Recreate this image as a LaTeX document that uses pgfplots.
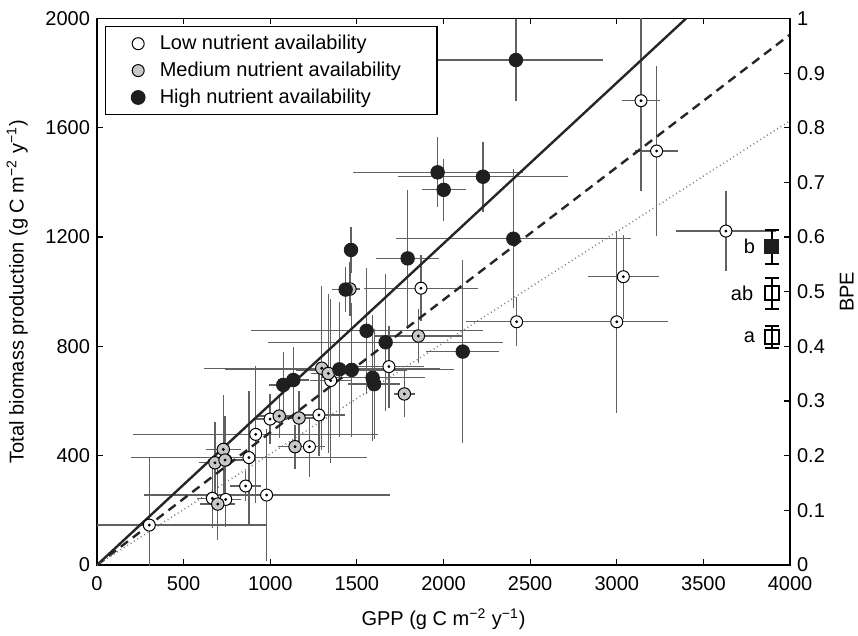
\documentclass[border=0pt]{standalone}
\usepackage{fontspec}
\setmainfont{Liberation Sans}
\usepackage{pgfplots}
\usepackage{pgfplotstable}
\pgfplotsset{compat=1.18}
\usetikzlibrary{calc}

\pgfplotstableread{
x y ex ey
2418 1848 500 150
1966 1437 490 128
2001 1373 128 114
2228 1421 490 128
2403 1194 680 255
1466 1153 40 84
1793 1122 183 250
1435 1008 80 82
1556 857 670 230
1666 815 680 250
2111 781 210 335
1399 716 660 247
1470 714 320 245
1591 685 300 230
1600 662 150 200
1075 659 80 120
1133 677 90 120
}\highdata

\pgfplotstableread{
x y ex ey
1460 1010 60 100
1297 720 680 300
1335 701 100 290
1855 838 250 100
1774 626 60 85
1052 545 120 80
1166 538 150 100
1143 433 100 80
729 423 100 200
681 374 90 150
739 384 100 160
697 223 100 130
}\meddata

\pgfplotstableread{
x y ex ey
3140 1699 110 330
3230 1515 125 310
3630 1222 290 145
3038 1055 205 153
3000 890 294 333
2422 890 290 90
1870 1013 327 120
1685 726 200 150
1349 675 120 300
1281 549 150 150
999 534 100 90
1226 433 90 110
916 478 706 250
877 393 680 245
743 384 100 160
858 289 90 55
979 256 710 240
666 244 90 110
743 240 90 100
302 146 680 245
}\lowdata

\begin{document}
\fontsize{10}{12}\selectfont
\begin{tikzpicture}
\pgfplotsset{
  base/.style={
    scale only axis, width=346.5pt, height=273.25pt,
    xmin=0, xmax=4000,
    tick align=inside, major tick length=3pt,
    axis line style={line width=0.9pt},
    tick style={black, line width=0.6pt},
    /pgf/number format/assume math mode=true,
    /pgf/number format/1000 sep={},
    tick label style={font=\fontsize{10}{12}\selectfont},
    label style={font=\fontsize{10}{12}\selectfont},
  },
  ebars/.style={only marks, mark=none, forget plot,
    error bars/.cd, x dir=both, x explicit, y dir=both, y explicit,
    error mark=none, error bar style={black!62, line width=0.65pt}},
}
\begin{axis}[base,
  ymin=0, ymax=2000,
  xtick={0,500,...,4000}, ytick={0,400,...,2000},
  xtick pos=both, ytick pos=left,
  xticklabel style={yshift=-2.2pt},
  xlabel={GPP (g C m\textsuperscript{−2} y\textsuperscript{−1})},
  ylabel={Total biomass production (g C m\textsuperscript{−2} y\textsuperscript{−1})},
  xlabel style={at={(axis description cs:0.5,-0.099)}, anchor=center},
  ylabel style={at={(axis description cs:-0.115,0.5)}, anchor=center},
  legend style={at={(0.0115,0.986)}, anchor=north west, draw=black, line width=0.6pt,
    font=\fontsize{10}{12}\selectfont, inner xsep=2pt, inner ysep=2.5pt,
    nodes={inner ysep=1.6pt, inner xsep=3pt}, row sep=1.5pt},
  legend cell align=left,
  legend image code/.code={\path (0pt,0pt) (21.5pt,0pt); \draw[#1] plot coordinates {(14pt,0pt)};},
]
\coordinate (SW) at (rel axis cs:0,0);
\coordinate (NE) at (rel axis cs:1,1);
\addlegendimage{only marks, mark=*, mark size=3pt, mark options={fill=white, draw=black, line width=0.5pt}}
\addlegendentry{Low nutrient availability}
\addlegendimage{only marks, mark=*, mark size=3pt, mark options={fill=black!22, draw=black, line width=0.5pt}}
\addlegendentry{Medium nutrient availability\rule{13pt}{0pt}}
\addlegendimage{only marks, mark=*, mark size=3.4pt, mark options={fill=black!88, draw=black!88}}
\addlegendentry{High nutrient availability}

% error bars
\addplot[ebars] table[x=x, y=y, x error=ex, y error=ey] {\lowdata};
\addplot[ebars] table[x=x, y=y, x error=ex, y error=ey] {\meddata};
\addplot[ebars] table[x=x, y=y, x error=ex, y error=ey] {\highdata};

% regression lines
\addplot[forget plot, black!85, line width=1.2pt] coordinates {(0,0) (3400,2000)};
\addplot[forget plot, black!85, line width=1.2pt, dash pattern=on 4.5pt off 3pt] coordinates {(0,0) (4000,1941)};
\addplot[forget plot, black!55, line width=0.8pt, dash pattern=on 0.4pt off 1.6pt] coordinates {(0,0) (4000,1626)};

% markers
\addplot[forget plot, only marks, mark=*, mark size=3pt, mark options={fill=white, draw=black, line width=0.5pt}] table[x=x, y=y] {\lowdata};
\addplot[forget plot, only marks, mark=*, mark size=0.5pt, mark options={fill=black, draw=black}] table[x=x, y=y] {\lowdata};
\addplot[forget plot, only marks, mark=*, mark size=3.1pt, mark options={fill=black!22, draw=black, line width=0.5pt}] table[x=x, y=y] {\meddata};
\addplot[forget plot, only marks, mark=*, mark size=0.5pt, mark options={fill=black, draw=black}] table[x=x, y=y] {\meddata};
\addplot[forget plot, only marks, mark=*, mark size=3.4pt, mark options={fill=black!88, draw=black!88}] table[x=x, y=y] {\highdata};
\end{axis}

\begin{axis}[base,
  ymin=0, ymax=1,
  axis y line*=right, axis x line=none,
  ytick={0,0.1,...,1}, yticklabels={0,0.1,0.2,0.3,0.4,0.5,0.6,0.7,0.8,0.9,1},
  ylabel={BPE},
  ylabel style={at={(axis description cs:1.082,0.5)}, anchor=center},
]
\addplot[only marks, mark=square*, mark size=3.5pt, mark options={fill=black!88, draw=black!88},
  error bars/.cd, y dir=both, y explicit, error mark=-,
  error bar style={black, line width=1pt},
  error mark options={rotate=90, black, line width=1pt, mark size=3.5pt}]
  coordinates {(3894,0.5825) +- (0,0.031)};
\addplot[only marks, mark=square, mark size=3.5pt, mark options={draw=black, line width=0.9pt},
  error bars/.cd, y dir=both, y explicit, error mark=-,
  error bar style={black, line width=1pt},
  error mark options={rotate=90, black, line width=1pt, mark size=3.5pt}]
  coordinates {(3894,0.497) +- (0,0.028) (3894,0.4167) +- (0,0.02)};
\node[anchor=east, inner sep=0pt] at (axis cs:3800,0.5825) {b};
\node[anchor=east, inner sep=0pt] at (axis cs:3790,0.497) {ab};
\node[anchor=east, inner sep=0pt] at (axis cs:3800,0.4167) {a};
\end{axis}
\pgfresetboundingbox
\path[use as bounding box] ($(SW)+(-48.5pt,-35pt)$) rectangle ($(NE)+(34pt,9.25pt)$);
\end{tikzpicture}
\end{document}
